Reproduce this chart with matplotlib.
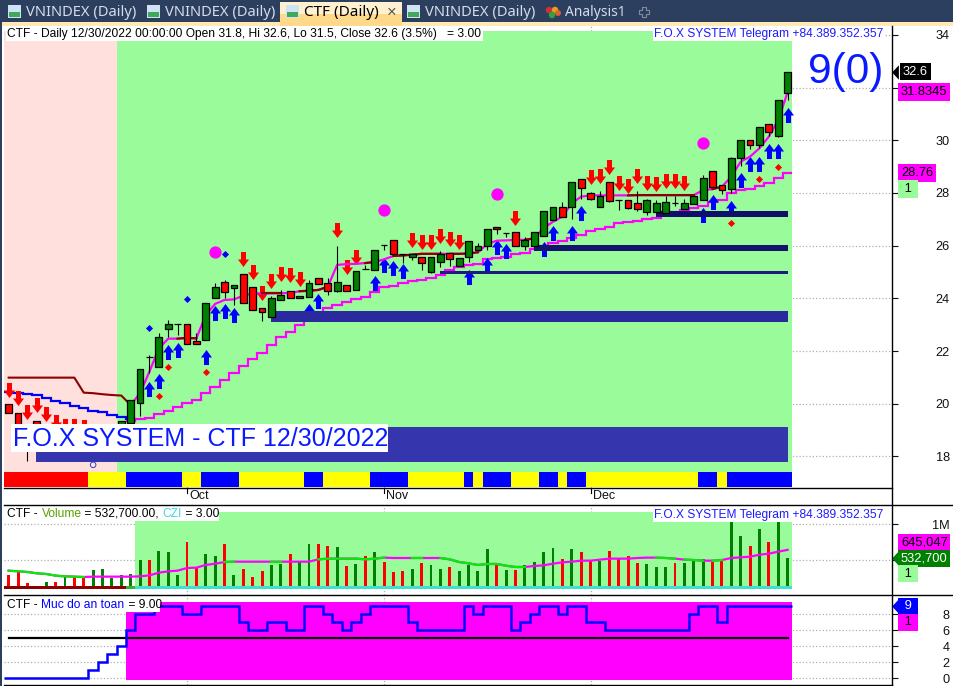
import numpy as np
import matplotlib
matplotlib.use('Agg')
import matplotlib.pyplot as plt
from matplotlib.path import Path
from matplotlib.patches import Rectangle

plt.rcParams['font.family'] = ['Liberation Sans', 'DejaVu Sans']

# candles, one value per bar
opens = [19.98, 19.64, 19.2, 19.36, 19.1, 19.0, 18.9, 18.8, 18.9, 18.7, 18.8, 18.9, 19.0, 19.26,
         20.04, 21.79, 21.41, 22.85, 23.03, 23.02, 22.37, 22.41, 24.0, 24.61, 24.41, 24.91, 24.42, 23.62,
         23.31, 23.95, 24.27, 24.0, 24.06, 24.79, 24.57, 24.29, 24.5, 24.32, 25.1, 25.08, 26.02, 26.2,
         25.7, 25.58, 25.58, 25.01, 25.39, 25.71, 25.24, 25.58, 25.84, 26.0, 26.7, 26.49, 26.51, 26.0,
         26.0, 26.38, 26.98, 27.46, 27.48, 28.52, 27.99, 27.48, 28.41, 27.72, 27.72, 27.61, 27.29, 27.29,
         27.25, 27.63, 27.4, 27.59, 27.72, 28.82, 28.29, 28.14, 29.32, 30.0, 29.81, 30.61, 30.17, 31.8]
closes = [19.64, 19.0, 18.7, 18.8, 18.8, 18.7, 18.6, 18.6, 18.7, 18.9, 19.0, 19.1, 19.35, 20.14,
          21.31, 21.79, 22.52, 23.02, 23.03, 22.26, 22.26, 23.81, 24.42, 24.23, 24.5, 23.81, 23.55, 23.5,
          24.0, 24.12, 24.0, 24.09, 24.57, 24.55, 24.29, 24.61, 24.29, 25.03, 25.1, 25.84, 26.02, 25.68,
          25.7, 25.67, 25.35, 25.56, 25.67, 25.51, 25.52, 26.17, 25.99, 26.62, 26.62, 26.49, 26.0, 26.22,
          26.51, 27.31, 27.46, 27.1, 28.41, 28.2, 27.78, 27.87, 27.71, 27.72, 27.44, 27.4, 27.72, 27.61,
          27.65, 27.63, 27.61, 27.87, 28.56, 28.24, 28.12, 29.32, 30.0, 29.81, 30.49, 30.3, 31.52, 32.6]
highs = [19.98, 19.64, 19.2, 19.36, 19.1, 19.0, 18.9, 18.8, 18.9, 18.9, 19.0, 19.1, 19.35, 20.14,
         21.31, 21.85, 22.7, 23.18, 23.03, 23.02, 22.68, 23.81, 24.57, 24.7, 24.5, 24.91, 24.42, 23.62,
         24.08, 24.3, 24.27, 24.09, 24.7, 24.79, 24.76, 25.99, 24.5, 25.03, 25.25, 25.84, 26.02, 26.2,
         25.7, 25.67, 25.58, 25.56, 25.8, 25.71, 25.55, 26.17, 26.12, 26.62, 26.7, 26.49, 26.51, 26.32,
         26.51, 27.31, 27.46, 27.67, 28.41, 28.52, 28.05, 28.08, 28.41, 27.72, 27.72, 28.08, 27.76, 27.74,
         27.88, 27.88, 27.76, 27.87, 28.7, 28.82, 28.29, 29.36, 30.0, 30.0, 30.49, 30.61, 31.52, 32.6]
lows = [19.64, 19.0, 17.84, 18.8, 18.8, 18.7, 18.2, 18.6, 18.7, 18.7, 18.8, 18.9, 19.0, 18.9,
        19.54, 21.15, 21.41, 22.55, 22.6, 22.26, 22.26, 22.41, 24.0, 24.0, 23.75, 23.81, 23.55, 23.15,
        23.31, 23.95, 24.0, 24.0, 24.06, 24.55, 24.13, 24.25, 24.29, 24.32, 25.1, 25.08, 25.84, 25.68,
        25.35, 25.45, 25.08, 24.97, 25.2, 25.23, 25.24, 25.39, 25.84, 25.84, 26.45, 26.34, 26.0, 25.84,
        26.0, 26.38, 26.98, 27.1, 27.01, 27.76, 27.75, 27.48, 27.65, 27.37, 27.38, 27.33, 27.15, 27.29,
        27.25, 27.52, 27.4, 27.59, 27.72, 28.24, 27.98, 28.0, 29.04, 29.68, 29.7, 30.15, 30.12, 31.53]

# moving lines
ma_slow = [np.nan] * 13 + [19.36, 19.43, 19.46, 19.60, 19.73, 19.89, 20.02, 20.14, 20.4, 20.65, 20.9, 21.16, 21.45,
           21.69, 21.94, 22.23, 22.52, 22.74, 23.0, 23.2, 23.42, 23.65, 23.76, 23.85, 23.97, 24.05, 24.24, 24.43,
           24.47, 24.58, 24.67, 24.7, 24.79, 24.89, 25.08, 25.19, 25.27, 25.31, 25.48, 25.52, 25.58, 25.68, 25.73,
           25.86, 26.0, 26.11, 26.19, 26.28, 26.41, 26.56, 26.63, 26.72, 26.85, 26.91, 26.94, 27.02, 27.05, 27.2,
           27.26, 27.35, 27.42, 27.51, 27.65, 27.73, 27.99, 28.11, 28.14, 28.27, 28.37, 28.56, 28.77]
ma_fast = [np.nan] * 13 + [19.95, 20.4, 21.22, 22.1, 22.47, 22.47, 22.5, 22.48, 23.37, 23.79, 23.94, 23.96, 24.1,
           24.19, 24.19, 24.19, 24.19, 24.21, 24.27, 24.29, 24.32, 24.44, 25.27, 25.3, 25.31, 25.34, 25.38, 25.48,
           25.61, 25.63, 25.66, 25.69, 25.69, 25.69, 25.69, 25.69, 25.7, 25.75, 26.06, 26.19, 26.2, 26.22, 26.22,
           26.28, 26.66, 26.91, 27.1, 27.61, 27.86, 27.91, 27.91, 27.91, 27.91, 27.91, 27.92, 27.92, 27.92,
           27.92, 27.92, 27.92, 27.92, 28.11, 28.15, 28.24, 28.62, 29.19, 29.38, 29.7, 30.14, 30.77, 31.83]
fast_flat = [(18, 20), (27, 29), (31, 34), (38, 39), (41, 46), (47, 50), (55, 56), (66, 73), (75, 76)]
blue_line = [20.46, 20.42, 20.37, 20.32, 20.21, 20.09, 20.04, 19.93, 19.84, 19.72, 19.68, 19.58, 19.49, 19.41]
darkred_line = [20.99, 20.99, 20.99, 20.99, 20.99, 20.99, 20.99, 20.99, 20.42, 20.4, 20.36, 20.33, 20.31, 19.95]

# signals
sell_x = [0, 1, 2, 3, 4, 5, 6, 7, 8, 25, 26, 27, 28, 29, 30, 31, 35, 36, 37, 43, 44, 45, 46, 47, 48, 54,
          62, 63, 64, 65, 66, 67, 68, 69, 70, 71, 72]
sell_y = [20.53, 20.21, 19.68, 19.95, 19.61, 19.3, 19.17, 19.17, 19.12, 25.48, 24.99, 24.19, 24.67, 24.91, 24.88,
          24.72, 26.58, 25.18, 25.58, 26.23, 26.15, 26.15, 26.38, 26.27, 26.15, 27.06,
          28.62, 28.66, 28.97, 28.37, 28.28, 28.66, 28.37, 28.33, 28.47, 28.47, 28.37]
buy_x = [15, 16, 17, 18, 21, 22, 23, 24, 32, 33, 39, 40, 41, 42, 49, 51, 52, 53, 57, 58, 60, 61,
         74, 75, 77, 78, 79, 80, 81, 82, 83]
buy_y = [20.57, 20.88, 21.98, 22.04, 21.79, 23.46, 23.53, 23.38, 23.51, 23.91, 24.57, 25.28, 25.14, 25.03,
         24.82, 25.28, 25.94, 25.79, 25.86, 26.47, 26.47, 27.23,
         27.18, 27.67, 27.43, 28.49, 29.09, 29.09, 29.59, 29.59, 30.97]
dot_x = [22, 40, 52, 74]
dot_y = [25.75, 27.34, 27.95, 29.89]
blue_dia_x = [15, 19, 23]
blue_dia_y = [22.88, 23.98, 25.68]
red_dia_x = [16, 17, 21, 77, 80, 82]
red_dia_y = [20.3, 21.4, 21.21, 26.87, 28.53, 28.99]

# zones
zone_start = [2.9, 28, 46, 56, 69]
zone_low = [17.79, 23.1, 24.93, 25.8, 27.09]
zone_high = [19.12, 23.52, 25.04, 26.03, 27.32]
zone_color = ['#3535ae', '#2a2a9e', '#1c1c80', '#14146e', '#10106a']
zone_end = 83

ribbon_edges = [-0.5, 8.5, 12.5, 18.5, 20.5, 24.5, 31.5, 33.5, 38.5, 42.5, 48.5, 49.5, 50.5, 53.5, 56.5, 58.5,
                59.5, 61.5, 73.5, 75.5, 76.5, 83.5]
ribbon_colors = ['#ff0000'] + ['#ffff00', '#0000ff'] * 10

# volume, in millions
volume = [.296, .351, .18, .125, .199, .199, .282, .268, .268, .365, .379, .254, .296, .31,
          .504, .504, .629, .615, .296, .754, .393, .587, .56, .726, .296, .379, .268, .351,
          .435, .449, .587, .476, .726, .726, .699, .685, .421, .449, .56, .615, .476, .338,
          .351, .379, .463, .435, .379, .407, .351, .435, .351, .657, .435, .365, .365, .435,
          .476, .615, .671, .518, .657, .615, .504, .49, .629, .532, .56, .463, .449, .407,
          .407, .463, .463, .504, .518, .476, .518, 1.032, .838, .699, .935, .754, 1.032, .532]
vol_red = [0, 1, 2, 3, 5, 7, 8, 15, 19, 20, 23, 25, 26, 27, 30, 33, 34, 36, 38, 40, 41, 42, 44, 47, 52, 54, 59, 61,
           62, 64, 65, 66, 67, 71, 75, 76, 79, 81]
vol_ma = [.356, .347, .338, .319, .31, .287, .277, .273, .268, .273, .273, .273, .273, .273,
          .277, .291, .328, .347, .356, .393, .398, .435, .453, .476, .481, .481, .481, .481,
          .481, .481, .481, .481, .481, .513, .523, .523, .523, .523, .513, .523, .537, .532,
          .532, .532, .532, .532, .532, .513, .476, .458, .435, .449, .449, .425, .407, .407,
          .421, .43, .453, .472, .481, .495, .495, .509, .523, .523, .523, .532, .537, .537,
          .532, .523, .509, .504, .495, .495, .504, .532, .541, .55, .578, .592, .62, .645]
vol_ma_green = [(0, 8), (23, 24), (28, 29), (33, 40), (43, 44), (46, 55), (69, 71), (72, 74), (75, 76)]
czi_edges = [-0.5, 12.5, 13.5, 83.5]
czi_colors = ['#8b0000', '#32b432', '#40e0d0']

# safety level panel
safety = [0, 0, 0, 0, 0, 0, 0, 0, 0, 1, 2, 3, 4, 6, 8, 8, 9, 9, 9, 8, 8, 9, 9, 9, 9, 7, 6, 6,
          7, 7, 6, 6, 9, 9, 8, 7, 6, 7, 8, 9, 9, 9, 9, 7, 6, 6, 6, 6, 6, 9, 8, 9, 9, 9, 6, 7,
          8, 9, 9, 8, 9, 9, 7, 7, 6, 6, 6, 6, 6, 6, 6, 6, 6, 8, 9, 9, 7, 9, 9, 9, 9, 9, 9, 9]
safety_mid = 5

month_labels = ['Oct', 'Nov', 'Dec']
month_bars = [19, 40, 62]
price_ticks = [18, 20, 22, 24, 26, 28, 30, 32, 34]
vol_ticks = [0.5, 1.0]
safety_ticks = [0, 2, 4, 6, 8]

n = len(closes)
x = np.arange(n)
GREEN = '#99fb99'
PINK = '#ffe0dc'
MAG = '#ff00ff'
W, H = 954, 686
LEFT, RIGHT = 4, 892
XLIM = ((LEFT - 8.67) / 9.385, (RIGHT - 8.67) / 9.385)

fig = plt.figure(figsize=(W / 100, H / 100), dpi=100, facecolor='white')

tag_tip = Path([(-3.5, 0), (3.5, 7.5), (3.5, -7.5), (-3.5, 0)], closed=True)


def panel(top, bottom, ylim, ticks, ticklabels):
    ax = fig.add_axes([LEFT / W, 1 - bottom / H, (RIGHT - LEFT) / W, (bottom - top) / H])
    ax.set_xlim(XLIM)
    ax.set_ylim(ylim)
    for s in ax.spines.values():
        s.set_visible(False)
    ax.set_xticks([])
    ax.yaxis.tick_right()
    ax.set_yticks(ticks)
    ax.set_yticklabels(ticklabels, fontsize=9.2, ha='right')
    ax.tick_params(axis='y', length=4, width=0.8, pad=37.5, colors='#111111')
    ax.grid(axis='y', color='#b0b0b0', linestyle=':', linewidth=0.9, zorder=0)
    ax.set_axisbelow(True)
    for b in month_bars:
        ax.axvline(b, color='#b0b0b0', linestyle=':', linewidth=0.9, zorder=0)
    return ax


def tag(ax, value, text, fc, fg='black', px=902, dy=0, arrow=False):
    frac = (px - LEFT) / (RIGHT - LEFT)
    ax.annotate(text, xy=(frac, value), xycoords=ax.get_yaxis_transform(), xytext=(0, dy),
                textcoords='offset points', ha='left', va='center', fontsize=9.3, color=fg,
                bbox=dict(boxstyle='square,pad=0.2', fc=fc, ec='none'), annotation_clip=False, zorder=20)
    if arrow:
        ax.plot([(895.5 - LEFT) / (RIGHT - LEFT)], [value], marker=tag_tip, ms=10.4, color=fc, mew=0,
                transform=ax.get_yaxis_transform(), clip_on=False, zorder=20)


# main price panel
ax = panel(26, 488, (16.80, 34.34), price_ticks, [str(t) for t in price_ticks])
ax.fill_between([XLIM[0], 11.5], 17.41, 34.15, color=PINK, lw=0, zorder=1)
ax.fill_between([11.5, 83.5], 17.41, 34.15, color=GREEN, lw=0, zorder=1)

ax.plot(x, darkred_line + [np.nan] * (n - 14), color='#8b0000', lw=1.5, zorder=3)
ax.stairs(blue_line, np.arange(15) - 0.5, baseline=None, color='#0000ff', lw=1.6, zorder=3)
ax.stairs(ma_slow, np.arange(n + 1) - 0.5, baseline=None, color=MAG, lw=1.6, zorder=3)

down = Path([(-2.5, 7.5), (2.5, 7.5), (2.5, 0), (5.5, 0), (0, -7.5), (-5.5, 0), (-2.5, 0), (-2.5, 7.5)], closed=True)
up = Path([(-2.5, -7.5), (2.5, -7.5), (2.5, 0), (5.5, 0), (0, 7.5), (-5.5, 0), (-2.5, 0), (-2.5, -7.5)], closed=True)
ax.scatter(sell_x, sell_y, marker=down, s=117, color='#ff0000', lw=0, zorder=4)
ax.scatter(buy_x, buy_y, marker=up, s=117, color='#0000ff', lw=0, zorder=4)

for s, lo, hi, c in zip(zone_start, zone_low, zone_high, zone_color):
    ax.fill_between([s, zone_end], lo, hi, color=c, lw=0, zorder=5)

ax.plot(x, ma_fast, color=MAG, lw=1.6, zorder=6)
for a, b in fast_flat:
    ax.plot(x[a:b + 1], ma_fast[a:b + 1], color='#8b0000', lw=1.6, zorder=6)

ax.vlines(x, lows, highs, color='black', lw=0.8, zorder=7)
colors = ['#008000' if c > o else '#ff0000' for o, c in zip(opens, closes)]
ax.bar(x, np.array(closes) - np.array(opens), bottom=opens, width=0.72, color=colors,
       edgecolor='black', linewidth=0.9, zorder=8)

ax.scatter(dot_x, dot_y, s=78, color=MAG, lw=0, zorder=9)
ax.scatter(blue_dia_x, blue_dia_y, s=13, marker='D', color='#0000ff', lw=0, zorder=9)
ax.scatter(red_dia_x, red_dia_y, s=13, marker='D', color='#ff0000', lw=0, zorder=9)
ax.scatter([9], [17.68], s=16, facecolors='none', edgecolors='#3040c0', lw=0.7, zorder=9)

ax.broken_barh(list(zip(ribbon_edges[:-1], np.diff(ribbon_edges))), (1 / 462, 15 / 462),
               facecolors=ribbon_colors, transform=ax.get_xaxis_transform(), zorder=9)

tag(ax, 32.6, '32.6', 'black', 'white', arrow=True, px=903)
tag(ax, 31.8345, '31.8345', MAG, px=901)
tag(ax, 28.76, '28.76', MAG, px=901)
tag(ax, 28.76, ' 1 ', GREEN, px=901, dy=-11.5)

# volume panel
vol_color = ['#ff0000' if i in vol_red else '#008000' for i in range(n)]
v_low = 0.0975
axv = panel(505, 595, (0.018, 1.268), vol_ticks, ['', '1M'])
axv.fill_between([13.5, 83.5], v_low, 1.17, color=GREEN, lw=0, zorder=1)
axv.bar(x, np.array(volume) - v_low, bottom=v_low, width=0.31, color=vol_color, lw=0, zorder=3)
axv.broken_barh(list(zip(czi_edges[:-1], np.diff(czi_edges))), (v_low, 0.046), facecolors=czi_colors, zorder=4)
axv.plot(x, vol_ma, color=MAG, lw=1.6, zorder=5)
for a, b in vol_ma_green:
    axv.plot(x[a:b + 1], vol_ma[a:b + 1], color='#00ee00', lw=1.6, zorder=5)
tag(axv, 0.645047, '645,047', MAG, px=901, dy=5)
tag(axv, 0.5327, '532,700', '#008000', 'white', arrow=True, px=901, dy=-0.7)
tag(axv, 0.5327, ' 1 ', GREEN, px=901, dy=-11.5)

# safety panel
axs = panel(595, 685, (-0.84, 10.4), safety_ticks, [str(t) for t in safety_ticks])
axs.fill_between([12.5, 83.5], -0.2, 9.54, color=MAG, lw=0, zorder=1)
axs.plot([0, 83], [safety_mid, safety_mid], color='black', lw=1.6, zorder=3)
axs.stairs(safety, np.arange(n + 1) - 0.5, baseline=None, color='#0000ff', lw=1.8, zorder=4)
tag(axs, safety[-1], ' 9 ', '#0000ff', 'white', arrow=True, px=901)
tag(axs, safety[-1], ' 1 ', MAG, px=901, dy=-11.5)

# overlay in pixels for the window parts and captions
ui = fig.add_axes([0, 0, 1, 1], zorder=10)
ui.set_xlim(0, W)
ui.set_ylim(H, 0)
ui.axis('off')
ui.patch.set_alpha(0)


def box(x0, y0, x1, y1, c, z=1):
    ui.add_patch(Rectangle((x0, y0), x1 - x0, y1 - y0, fc=c, ec='none', zorder=z))


def pieces(x0, y, parts, size=8.65):
    rend = fig.canvas.get_renderer()
    for s, c in parts:
        ui.text(x0, y, s, color=c, fontsize=size, ha='left', va='center', zorder=6)
        probe = ui.text(0, 0, s + '.', fontsize=size)
        dot = ui.text(0, 0, '.', fontsize=size)
        x0 += probe.get_window_extent(rend).width - dot.get_window_extent(rend).width
        probe.remove()
        dot.remove()


# tab bar
box(0, 0, W, 23, '#2d3f5e')
box(0, 22, W, 26, '#ffe9b5')
box(0, 0, 2.5, H, '#2d3f5e')
box(280, 2, 402, 14, '#fff1cf')
box(280, 14, 402, 26, '#ffd98a')
for ix in [8, 147, 286, 407]:
    box(ix, 5, ix + 13, 18, '#cfe3f5', 2)
    box(ix + 1, 12, ix + 12, 17, '#3fa85a', 2)
tab_font = ['Noto Sans', 'DejaVu Sans']
for tx, s in [(26, 'VNINDEX (Daily)'), (165, 'VNINDEX (Daily)'), (425, 'VNINDEX (Daily)')]:
    ui.text(tx, 12.5, s, color='#d4dceb', fontsize=10.6, family=tab_font, ha='left', va='center', zorder=6)
ui.text(565, 12.5, 'Analysis1', color='#d4dceb', fontsize=10, family=tab_font, ha='left', va='center', zorder=6)
ui.text(304, 12.5, 'CTF (Daily)', color='black', fontsize=11, weight='bold', family=tab_font,
        ha='left', va='center', zorder=6)
ui.text(392, 12, '\u00d7', color='#555555', fontsize=12, ha='center', va='center', zorder=6)
ui.scatter([549, 555, 552, 558], [10, 10, 15, 13], s=[22, 22, 22, 18], color=['#d03030', '#e0a020', '#30a040', '#e06030'],
           lw=0, zorder=6)
ui.scatter([644], [12], marker='P', s=55, facecolors='none', edgecolors='#7f8ba0', lw=0.8, zorder=6)

# frame lines
for y0, x1 in [(488, RIGHT), (505, W), (595, W), (685, RIGHT)]:
    ui.plot([LEFT, x1], [y0, y0], color='black', lw=1.0, zorder=4)
ui.plot([RIGHT, RIGHT], [26, 686], color='black', lw=1.0, zorder=4)
for b, m in zip(month_bars, month_labels):
    px = 8.67 + 9.385 * b
    ui.plot([px, px], [488, 493], color='black', lw=0.8, zorder=4)
    ui.text(px + 2, 496, m, fontsize=9, color='#111111', ha='left', va='center', zorder=6)

# captions
box(6, 27, 483, 41, 'white', 3)
pieces(7.5, 34, [('CTF - Daily 12/30/2022 00:00:00 Open 31.8, Hi 32.6, Lo 31.5, Close 32.6 (3.5%)   = 3.00', 'black')])
box(653, 27, 885, 41, 'white', 3)
ui.text(654, 34, 'F.O.X SYSTEM Telegram +84.389.352.357', color='#1c1cff', fontsize=8.65, va='center', zorder=6)
box(11, 424, 388, 452, 'white', 3)
ui.text(13, 438.5, 'F.O.X SYSTEM - CTF 12/30/2022', color='#0a1aff', fontsize=18, va='center', zorder=6)
ui.text(845.5, 72, '9(0)', color='#0a1aff', fontsize=30.5, ha='center', va='center', zorder=6)

box(6, 507, 219, 521, 'white', 3)
pieces(7.5, 514, [('CTF - ', 'black'), ('Volume', '#5aa000'), (' = 532,700.00, ', 'black'), ('CZI', '#40d8d8'),
                  (' = 3.00', 'black')])
box(653, 508, 885, 522, 'white', 3)
ui.text(654, 515, 'F.O.X SYSTEM Telegram +84.389.352.357', color='#1c1cff', fontsize=8.65, va='center', zorder=6)
box(6, 598, 160, 612, 'white', 3)
pieces(7.5, 605, [('CTF - ', 'black'), ('Muc do an toan', '#0000ff'), (' = 9.00', 'black')])

fig.savefig('out.png', dpi=100)
